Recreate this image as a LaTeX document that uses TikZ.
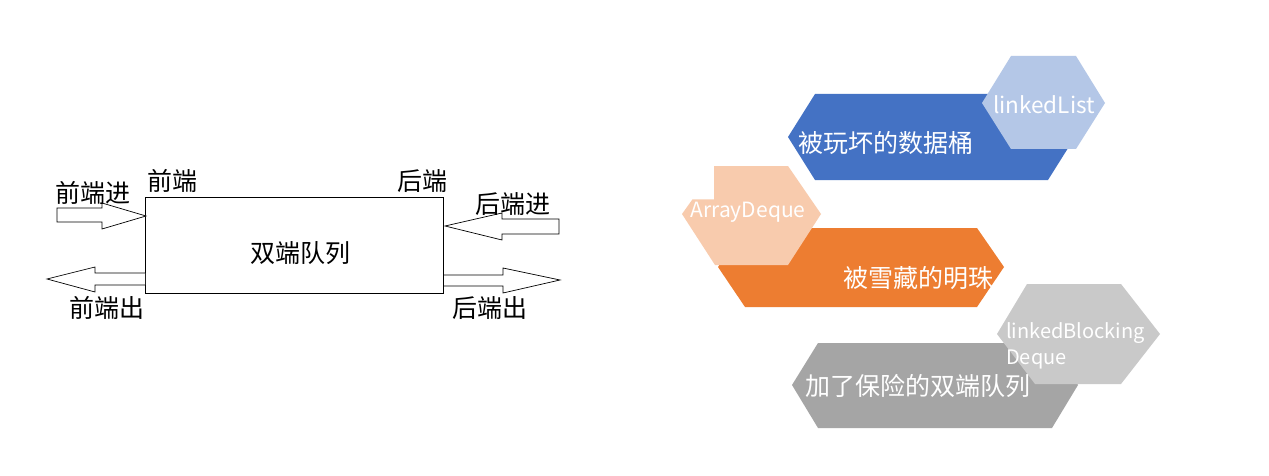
\documentclass[tikz,border=0pt]{standalone}
\usepackage{fontspec}
\setmainfont{Noto Sans CJK SC}
\definecolor{hexblue}{HTML}{4472C4}
\definecolor{hexblueL}{HTML}{B4C7E7}
\definecolor{hexorange}{HTML}{ED7D31}
\definecolor{hexorangeL}{HTML}{F8CBAD}
\definecolor{hexgray}{HTML}{A5A5A5}
\definecolor{hexgrayL}{HTML}{C9C9C9}
\tikzset{
  lbl/.style={font=\fontsize{25}{30}\selectfont, inner sep=0pt, text=black},
  wlbl/.style={font=\fontsize{25}{30}\selectfont, inner sep=0pt, text=white},
  latinlbl/.style={inner sep=0pt, text=white},
  blockarrow/.style={draw=black, line width=0.7pt, fill=white, line join=miter},
  queuebox/.style={draw=black, line width=0.8pt, minimum width=298pt, minimum height=96pt, inner sep=0pt},
}
\begin{document}
\begin{tikzpicture}[x=1pt,y=-1pt]
\fill[white] (0,0) rectangle (1269,476);
\useasboundingbox (0,0) rectangle (1269,476);

% ---------- left: double ended queue ----------
\node[queuebox] (q) at (294,245) {};
\node[lbl] (qlabel) at (300,253) {双端队列};

% front in
\draw[blockarrow] (57,208) -- (102,208) -- (102,203) -- (146,216) -- (102,229) -- (102,222) -- (57,222) -- cycle;
% front out
\draw[blockarrow] (145,273) -- (95,273) -- (95,267) -- (47,279) -- (95,292) -- (95,285) -- (145,285);
% back in
\draw[blockarrow] (445,226) -- (502,213) -- (502,219) -- (559,219) -- (559,234) -- (502,234) -- (502,240) -- cycle;
% back out
\draw[blockarrow] (444,275) -- (503,275) -- (503,268) -- (560,280) -- (503,293) -- (503,286) -- (444,286);

\node[lbl] (fe) at (172,181) {前端};
\node[lbl] (be) at (422,181) {后端};
\node[lbl] (fin) at (93,193) {前端进};
\node[lbl] (fout) at (107,308) {前端出};
\node[lbl] (bin) at (513,204) {后端进};
\node[lbl] (bout) at (490,308) {后端出};

% ---------- right: hexagons ----------
\fill[hexblue] (788,137) -- (815,94) -- (1048,94) -- (1075,137) -- (1048,180) -- (815,180) -- cycle;
\fill[hexblueL] (982,103) -- (1011,56) -- (1076,56) -- (1105,103) -- (1076,149) -- (1011,149) -- cycle;

\fill[hexorange] (718,267) -- (745,228) -- (977,228) -- (1004,267) -- (977,307) -- (745,307) -- cycle;
\fill[hexorangeL] (682,214) -- (692.5,199.3) -- (714,199.3) -- (714,166) -- (788,166) -- (821,214) -- (788,265) -- (715,265) -- cycle;

\fill[hexgray] (792,385) -- (818,343) -- (1052,343) -- (1078,385) -- (1052,428) -- (818,428) -- cycle;
\fill[hexgrayL] (997,334) -- (1027,284) -- (1121,284) -- (1160,334) -- (1121,384) -- (1035,384) -- cycle;

\node[wlbl] (t1) at (885.5,142.5) {被玩坏的数据桶};
\node[latinlbl, font=\fontsize{22.5}{27}\selectfont, anchor=base] (l1) at (1044,113.3) {linkedList};
\node[latinlbl, font=\fontsize{21}{26}\selectfont, anchor=base] (l2) at (748,217.3) {ArrayDeque};
\node[wlbl] (t2) at (918.5,278) {被雪藏的明珠};
\node[latinlbl, font=\fontsize{20}{26}\selectfont, align=left, anchor=west] (l3) at (1006,346) {linkedBlocking\\Deque};
\node[wlbl] (t3) at (918.4,386) {加了保险的双端队列};
\end{tikzpicture}
\end{document}
